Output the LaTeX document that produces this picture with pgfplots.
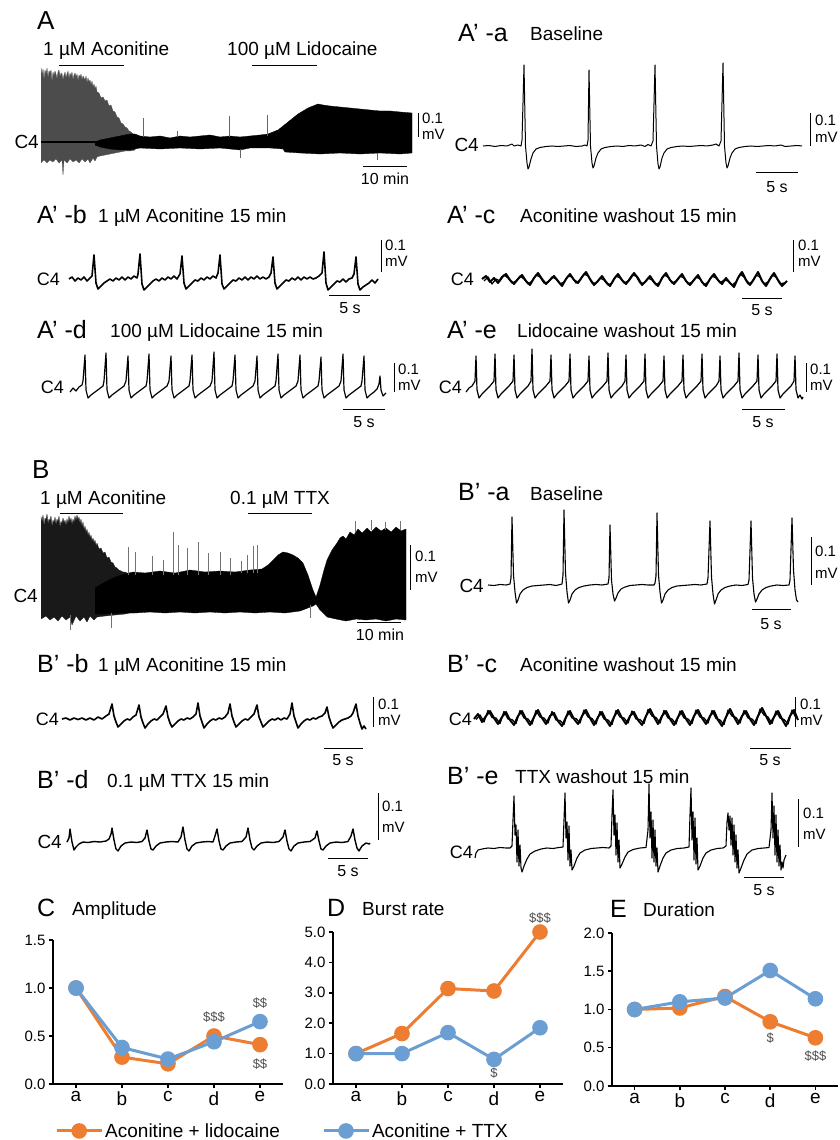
\documentclass[border=0pt]{standalone}
\usepackage{fontspec}
\setmainfont{Liberation Sans}
\usepackage{pgfplots}
\pgfplotsset{compat=1.18, /pgf/number format/assume math mode=true}
\definecolor{orng}{HTML}{ED7D31}
\definecolor{blu}{HTML}{6B9ED2}
\pgfplotsset{chart/.style={scale only axis, xmin=-0.5, xmax=4.5, ymin=0,
  axis x line*=bottom, axis y line*=left, axis line style={-, line width=2.5pt},
  xtick={0,1,2,3,4}, xticklabels={a,b,c,d,e}, tick align=outside, major tick length=4pt,
  tick style={line width=1.5pt, black}, clip=false, scaled y ticks=false,
  y tick label style={/pgf/number format/.cd, fixed, fixed zerofill, precision=1, /tikz/.cd, font=\fontsize{15}{15}\selectfont},
  x tick label style={font=\fontsize{19}{19}\selectfont},
  every axis plot/.append style={line width=3pt, mark=*, mark size=6.3pt, mark options={solid}}}}
\begin{document}
\begin{tikzpicture}[
 ann/.style={font=\fontsize{13}{13}\selectfont, text=black!70},
 lab/.style={inner sep=0pt, anchor=base west, font=\fontsize{25}{25}\selectfont},
 big/.style={inner sep=0pt, anchor=base west, font=\fontsize{26}{26}\selectfont},
 ttl/.style={inner sep=0pt, anchor=base west, font=\fontsize{19}{19}\selectfont},
 cf/.style={inner sep=0pt, anchor=base east, font=\fontsize{19}{19}\selectfont},
 cs/.style={inner sep=0pt, anchor=base east, font=\fontsize{18}{18}\selectfont},
 sb/.style={inner sep=0pt, anchor=base west, font=\fontsize{15}{15}\selectfont},
 tb/.style={inner sep=0pt, anchor=base, font=\fontsize{16}{16}\selectfont}]
\useasboundingbox (0,0) rectangle (840pt,1140pt);
\begin{axis}[at={(0pt,0pt)}, anchor=south west, width=840pt, height=1140pt, scale only axis,
  xmin=0, xmax=840, ymin=0, ymax=1140, y dir=reverse, hide axis, clip=false,
  unbounded coords=jump, every axis plot/.append style={line join=round}]
% ---------------- A ----------------
\node[big] at (37,30) {A};
\node[ttl] at (43,56) {1 µM Aconitine};
\node[ttl] at (227,56) {100 µM Lidocaine};
\addplot[black, line width=1pt] coordinates {(59,66)(124,66)};
\addplot[black, line width=1pt] coordinates {(252,66)(317,66)};
\addplot[fill=black!70, draw=black!70, line width=0.3pt] coordinates {(41,68)(42,75)(43,69)(44,80)(45,70)(46,74)(47,68)(48,78)(49,71)(50,73)(51,70)(52,82)(53,72)(54,76)(55,71)(56,74)(57,79)(58,72)(59,70)(60,77)(61,73)(62,74)(63,80)(64,75)(65,72)(66,78)(67,74)(68,71)(69,79)(70,73)(71,76)(72,72)(73,80)(74,75)(75,73)(76,77)(77,74)(78,81)(79,75)(80,77)(81,74)(82,80)(83,76)(84,78)(85,80)(86,76)(87,83)(88,78)(89,82)(90,80)(91,85)(92,81)(93,87)(94,84)(95,89)(96,86)(97,92)(99,93)(101,98)(103,97)(105,101)(107,100)(109,106)(111,105)(113,111)(115,112)(117,117)(119,118)(121,123)(123,124)(125,127)(127,128)(129,131)(131,132)(133,134)(135,136)(135,150)(130,151)(125,151)(120,152)(115,153)(110,154)(105,155)(100,156)(97,157)(95,161)(93,158)(90,163)(88,159)(85,162)(82,159)(79,163)(76,160)(73,162)(70,159)(67,163)(64,160)(63,175)(62,160)(59,163)(56,159)(53,162)(50,160)(47,163)(44,160)(41,163)};
\addplot[black, line width=1.5pt] coordinates {(41,142)(100,142)};
\addplot[fill=black, draw=black, line width=0.3pt] coordinates {(95,142)(100,140)(105,139)(110,138)(115,137)(120,136)(125,135)(130,134)(135,134)(140,136)(150,137)(160,136)(170,138)(180,136)(190,137)(200,136)(210,135)(220,137)(230,136)(240,137)(250,136)(260,135)(268,134)(273,132)(278,130)(283,126)(288,122)(293,118)(298,114)(303,111)(308,108)(313,106)(318,104)(323,105)(330,106)(340,107)(350,108)(360,109)(370,110)(380,111)(390,111)(400,112)(412,113)(412,153)(400,154)(380,153)(360,154)(340,153)(320,154)(300,153)(285,152)(283,149)(270,148)(250,148)(240,150)(220,148)(200,149)(180,148)(160,149)(140,148)(130,150)(120,150)(110,149)(100,147)(95,145)};
\addplot[black!60, line width=0.6pt] coordinates {(143,137)(143,118)(143,nan)(177,137)(177,131)(177,nan)(229,137)(229,116)(229,nan)(267,136)(267,115)(267,nan)(240,149)(240,158)(240,nan)(377,153)(377,160)};
\node[cf] at (39,149) {C4};
\addplot[black, line width=1pt] coordinates {(418,113)(418,137)};
\node[sb] at (422,124) {0.1};
\node[sb] at (422,140) {mV};
\addplot[black, line width=1pt] coordinates {(363,167)(407,167)};
\node[tb] at (385,185) {10 min};
% ---------------- A'-a ----------------
\node[lab] at (458,42) {A’ -a};
\node[ttl] at (530,41) {Baseline};
\node[cf] at (479,152) {C4};
\addplot[black, line width=1pt] coordinates {(483,146)(489,145.5)(495,146.5)(501,145.5)(507,146)(512,144)(514,146)(518,145)(521,146)(522,140)(524,65)(525.5,146)(527,163)(528,169)(529,167)(531,159)(533,153)(536,149)(540,147.5)(546,146.5)(552,146)(558,146.5)(564,146)(570,145.5)(576,146.5)(582,146)(585,145)(587,146)(588,140)(589,70)(590.5,146)(592,163)(593,168)(594,166)(596,158)(598,153)(601,149)(605,147.5)(611,146.5)(617,146)(623,146.5)(629,145.5)(635,146)(641,145)(645,146.5)(648,144.5)(651,146)(653,141)(655,65)(656.5,146)(658,164)(659,169)(660,167)(662,158)(664,153)(667,149)(671,147.5)(677,146.5)(683,146)(689,146.5)(695,146)(701,145.5)(707,146)(713,145)(716,144)(719,146)(721,141)(723,63)(724.5,146)(726,163)(727,168)(728,166)(730,158)(732,153)(735,149)(739,147.5)(745,146.5)(751,146)(757,146.5)(763,146)(769,145.5)(775,146)(781,145)(785,146.5)(791,146)(797,145.5)(802,146)};
\addplot[black, line width=1pt] coordinates {(810,113)(810,146)};
\node[sb] at (815,126) {0.1};
\node[sb] at (815,143) {mV};
\addplot[black, line width=1pt] coordinates {(756,173)(798,173)};
\node[tb] at (777,193) {5 s};
% ---------------- A'-b ----------------
\node[lab] at (37,224) {A’ -b};
\node[ttl] at (98,223) {1 µM Aconitine 15 min};
\node[cs] at (60,285) {C4};
\addplot[black, line width=1.6pt] coordinates {(69,279)(72,277)(75,281)(78,278)(81,280)(84,277)(87,281)(90,278)(92,276)(94,255)(96,283)(98,289)(101,286)(104,283)(107,281)(110,279)(113,281)(116,278)(119,280)(122,277)(125,280)(128,277)(131,279)(134,276)(137,278)(138,274)(140,254)(142,284)(144,290)(147,287)(150,284)(153,281)(156,279)(159,281)(162,278)(165,280)(168,277)(171,279)(174,276)(177,279)(180,274)(182,256)(184,283)(186,289)(189,286)(192,283)(195,280)(198,281)(201,278)(204,280)(207,277)(210,279)(213,276)(216,278)(218,273)(220,255)(222,284)(224,289)(227,286)(230,283)(233,280)(236,281)(239,278)(242,280)(245,277)(248,280)(251,277)(254,279)(257,276)(260,279)(263,277)(266,279)(269,277)(271,273)(273,257)(275,283)(277,289)(280,286)(283,283)(286,280)(289,281)(292,278)(295,280)(298,277)(301,280)(304,277)(307,279)(310,277)(313,279)(316,278)(319,276)(322,273)(324,252)(326,283)(328,290)(331,287)(334,284)(337,281)(340,282)(343,279)(346,282)(349,279)(352,278)(354,274)(356,257)(358,284)(360,290)(363,287)(366,285)(369,283)(372,280)(375,283)(378,279)};
\addplot[black, line width=1pt] coordinates {(381,240)(381,272)};
\node[sb] at (385,251) {0.1};
\node[sb] at (385,267) {mV};
\addplot[black, line width=1pt] coordinates {(329,295)(370,295)};
\node[tb] at (350,313) {5 s};
% ---------------- A'-c ----------------
\node[lab] at (447,224) {A’ -c};
\node[ttl] at (520,223) {Aconitine washout 15 min};
\node[cs] at (474,285) {C4};
\addplot[black, line width=2pt] coordinates {(482,279)(486,276)(490,282)(494,278)(498,283)(502,277)(506,274)(510,280)(514,284)(518,279)(522,275)(526,281)(530,285)(534,278)(538,273)(542,279)(546,284)(550,280)(554,276)(558,281)(562,286)(566,279)(570,274)(574,280)(578,283)(582,277)(586,272)(590,279)(594,285)(598,281)(602,276)(606,282)(610,286)(614,279)(618,274)(622,280)(626,284)(630,279)(634,273)(638,278)(642,285)(646,281)(650,276)(654,282)(658,286)(662,278)(666,273)(670,280)(674,284)(678,279)(682,274)(686,281)(690,285)(694,280)(698,275)(702,282)(706,286)(710,279)(714,274)(718,280)(722,284)(726,278)(730,283)(734,287)(738,278)(742,272)(746,280)(750,285)(754,279)(758,272)(762,281)(766,286)(770,279)(774,273)(778,280)(782,286)(787,281)};
\addplot[black, line width=1.3pt] coordinates {(484,281)(488,277)(492,284)(496,279)(500,281)(504,275)(508,278)(512,283)(516,281)(520,276)(524,279)(528,284)(532,281)(536,275)(540,277)(544,283)(548,282)(552,277)(556,279)(560,284)(564,282)(568,276)(572,277)(576,283)(580,280)(584,274)(588,276)(592,283)(596,283)(600,278)(604,280)(608,285)(612,283)(616,276)(620,278)(624,283)(628,281)(632,275)(636,276)(640,283)(644,283)(648,278)(652,280)(656,285)(660,282)(664,275)(668,277)(672,283)(676,281)(680,276)(684,278)(688,284)(692,282)(696,277)(700,279)(704,285)(708,282)(712,276)(716,278)(720,283)(724,280)(728,281)(732,285)(736,282)(740,274)(744,277)(748,284)(752,282)(756,275)(760,277)(764,284)(768,282)(772,275)(776,277)(780,284)(784,283)};
\addplot[black, line width=1pt] coordinates {(793,240)(793,272)};
\node[sb] at (798,251) {0.1};
\node[sb] at (798,267) {mV};
\addplot[black, line width=1pt] coordinates {(742,298)(782,298)};
\node[tb] at (762,315) {5 s};
% ---------------- A'-d ----------------
\node[lab] at (37,338) {A’ -d};
\node[ttl] at (110,337) {100 µM Lidocaine 15 min};
\node[cs] at (64,393) {C4};
\addplot[black, line width=1.2pt] coordinates {(70,392)(73,388)(76,391)(79,387)(82,385)(83,381)(85,355)(86,390)(88,398)(91,395)(95,392)(99,389)(103,386)(104,381)(106,353)(107,390)(109,398)(112,395)(116,392)(120,389)(124,386)(126,381)(128,356)(129,390)(131,398)(134,395)(138,392)(142,389)(146,386)(147,381)(149,354)(150,390)(152,398)(155,395)(159,392)(163,389)(167,386)(169,381)(171,356)(172,390)(174,398)(177,395)(181,392)(185,389)(189,386)(190,381)(192,355)(193,390)(195,398)(198,395)(202,392)(206,389)(210,386)(212,381)(214,352)(215,390)(217,398)(220,395)(224,392)(228,389)(232,386)(233,381)(235,355)(236,390)(238,398)(241,395)(245,392)(249,389)(253,386)(255,381)(257,356)(258,390)(260,398)(263,395)(267,392)(271,389)(275,386)(276,381)(278,354)(279,390)(281,398)(284,395)(288,392)(292,389)(296,386)(298,381)(300,355)(301,390)(303,398)(306,395)(310,392)(314,389)(318,386)(319,381)(321,357)(322,390)(324,398)(327,395)(331,392)(335,389)(339,386)(341,381)(343,354)(344,390)(346,398)(349,395)(353,392)(357,389)(361,386)(362,381)(364,356)(365,390)(367,398)(370,395)(374,392)(377,389)(379,384)(380,376)(381,390)(383,396)(386,393)};
\addplot[black, line width=1pt] coordinates {(394,363)(394,392)};
\node[sb] at (398,374) {0.1};
\node[sb] at (398,390) {mV};
\addplot[black, line width=1pt] coordinates {(343,409)(385,409)};
\node[tb] at (364,427) {5 s};
% ---------------- A'-e ----------------
\node[lab] at (447,338) {A’ -e};
\node[ttl] at (517,337) {Lidocaine washout 15 min};
\node[cs] at (462,393) {C4};
\addplot[black, line width=1.2pt] coordinates {(466,392)(469,388)(472,386)(475,381)(476,356)(477,390)(479,398)(482,394)(486,390)(490,386)(494,381)(495,354)(496,390)(498,398)(501,394)(505,390)(509,386)(513,381)(514,355)(515,390)(517,398)(520,394)(524,390)(528,386)(531,381)(532,349)(533,390)(535,398)(538,394)(542,390)(546,386)(550,381)(551,355)(552,390)(554,398)(557,394)(561,390)(565,386)(569,381)(570,354)(571,390)(573,398)(576,394)(580,390)(584,386)(588,381)(589,356)(590,390)(592,398)(595,394)(599,390)(603,386)(607,381)(608,353)(609,390)(611,398)(614,394)(618,390)(622,386)(625,381)(626,355)(627,390)(629,398)(632,394)(636,390)(640,386)(644,381)(645,354)(646,390)(648,398)(651,394)(655,390)(659,386)(663,381)(664,356)(665,390)(667,398)(670,394)(674,390)(678,386)(682,381)(683,355)(684,390)(686,398)(689,394)(693,390)(697,386)(701,381)(702,354)(703,390)(705,398)(708,394)(712,390)(716,386)(719,381)(720,356)(721,390)(723,398)(726,394)(730,390)(734,386)(738,381)(739,353)(740,390)(742,398)(745,394)(749,390)(753,386)(757,381)(758,355)(759,390)(761,398)(764,394)(768,390)(772,386)(776,381)(777,354)(778,390)(780,398)(783,394)(787,390)(791,386)(794,381)(795,356)(796,390)(798,398)(800,395)(802,399)(803,397)};
\addplot[black, line width=1pt] coordinates {(806,363)(806,392)};
\node[sb] at (810,374) {0.1};
\node[sb] at (810,390) {mV};
\addplot[black, line width=1pt] coordinates {(742,409)(785,409)};
\node[tb] at (763,427) {5 s};
% ---------------- B ----------------
\node[big] at (32,478) {B};
\node[ttl] at (40,504) {1 µM Aconitine};
\addplot[black, line width=1pt] coordinates {(60,513)(123,513)};
\node[ttl] at (230,504) {0.1 µM TTX};
\addplot[black, line width=1pt] coordinates {(248,513)(312,513)};
\addplot[fill=black!90, draw=black!90, line width=0.3pt] coordinates {(41,517)(42,522)(43,515)(44,526)(45,518)(46,520)(47,514)(48,524)(49,519)(50,521)(51,516)(52,527)(53,520)(54,523)(55,517)(56,525)(57,519)(58,522)(59,516)(60,528)(61,521)(62,524)(63,518)(64,523)(65,520)(66,526)(67,519)(68,524)(69,516)(70,522)(71,518)(72,525)(73,519)(74,523)(75,516)(76,521)(77,515)(78,520)(79,517)(80,524)(81,519)(82,527)(83,522)(84,530)(85,526)(86,533)(87,529)(88,536)(89,532)(90,538)(91,535)(92,541)(93,538)(94,543)(95,540)(96,546)(97,543)(99,549)(101,548)(103,553)(105,552)(107,558)(109,557)(111,562)(113,563)(115,567)(117,568)(119,570)(121,571)(123,572)(125,572)(127,573)(129,573)(131,574)(133,574)(133,612)(125,614)(115,615)(105,616)(97,617)(94,620)(90,616)(87,622)(84,617)(80,621)(76,616)(72,625)(70,617)(66,620)(62,616)(58,621)(54,617)(50,620)(46,616)(41,619)};
\addplot[fill=black, draw=black, line width=0.3pt] coordinates {(95,588)(105,582)(115,577)(125,574)(133,572)(145,573)(160,571)(175,573)(190,570)(205,572)(220,571)(235,572)(250,570)(262,569)(268,565)(273,560)(278,555)(283,552)(288,553)(293,555)(298,558)(303,563)(308,575)(313,590)(316,597)(320,585)(324,570)(327,560)(332,550)(337,543)(340,538)(343,536)(346,539)(350,532)(354,535)(358,529)(362,533)(367,528)(371,532)(376,527)(381,531)(386,528)(391,532)(396,527)(401,531)(406,529)(406,620)(396,619)(386,621)(376,619)(366,620)(356,619)(346,621)(336,619)(327,617)(320,610)(316,604)(313,606)(300,611)(285,613)(270,612)(255,613)(240,612)(225,613)(210,612)(195,613)(180,612)(165,613)(150,612)(135,613)(120,613)(105,614)(95,614)};
\addplot[black!55, line width=0.6pt] coordinates {(128,575)(128,547)(128,nan)(135,575)(135,552)(135,nan)(173,575)(173,532)(173,nan)(178,575)(178,545)(178,nan)(187,575)(187,548)(187,nan)(198,575)(198,542)(198,nan)(208,575)(208,553)(208,nan)(220,575)(220,552)(220,nan)(230,575)(230,558)(230,nan)(247,573)(247,555)(247,nan)(253,573)(253,546)(253,nan)(257,573)(257,545)(257,nan)(152,575)(152,556)(152,nan)(163,575)(163,560)(163,nan)(241,573)(241,561)(241,nan)(355,532)(355,521)(355,nan)(371,530)(371,520)(371,nan)(385,530)(385,522)(385,nan)(400,530)(400,521)(400,nan)(70,615)(70,630)(70,nan)(111,613)(111,628)(111,nan)(310,605)(310,618)};
\node[cf] at (38,602) {C4};
\addplot[black, line width=1pt] coordinates {(410,545)(410,590)};
\node[sb] at (415,561) {0.1};
\node[sb] at (415,582) {mV};
\addplot[black, line width=1pt] coordinates {(357,622)(401,622)};
\node[tb] at (380,640) {10 min};
% ---------------- B'-a ----------------
\node[lab] at (458,500) {B’ -a};
\node[ttl] at (530,500) {Baseline};
\node[cf] at (484,592) {C4};
\addplot[black, line width=1.1pt] coordinates {(488,585)(494,585.5)(500,584.5)(506,585)(510,584)(511,578)(512,517)(513.5,575)(515,592)(516.5,603)(518,600)(520,594)(523,590)(527,587.5)(532,586)(538,585.5)(544,585)(550,584.5)(556,585.5)(562,584)(563,575)(564,510)(565.5,573)(567,592)(568.5,603)(570,600)(572,594)(575,590)(579,587.5)(584,586)(590,585)(596,584.5)(602,585)(608,584)(609,578)(610,525)(611.5,580)(613,594)(614.5,601)(616,598)(618,593)(621,589)(625,587)(630,585.5)(636,585)(642,584.5)(648,585)(654,585)(655,583)(656,576)(657,513)(658.5,575)(660,592)(661.5,603)(663,600)(665,594)(668,590)(672,587.5)(677,586)(683,585.5)(689,585)(695,584.5)(701,585)(707,584)(708,578)(710,521)(711.5,577)(713,594)(714.5,604)(716,600)(718,594)(721,590)(725,587.5)(730,586)(736,585)(742,585.5)(748,584.5)(749,580)(751,521)(752.5,578)(754,594)(755.5,602)(757,599)(759,594)(762,590)(766,587.5)(771,586)(777,585)(783,585.5)(789,585)(790,580)(792,518)(793.5,570)(795,590)(796.5,600)(798,602)};
\addplot[black, line width=1pt] coordinates {(811,537)(811,585)};
\node[sb] at (815,556) {0.1};
\node[sb] at (815,578) {mV};
\addplot[black, line width=1pt] coordinates {(752,609)(791,609)};
\node[tb] at (771,629) {5 s};
% ---------------- B'-b ----------------
\node[lab] at (37,672) {B’ -b};
\node[ttl] at (98,671) {1 µM Aconitine 15 min};
\node[cs] at (59,725) {C4};
\addplot[black, line width=1.6pt] coordinates {(62,719)(66,718)(70,720)(74,718)(78,719.5)(82,718)(86,720)(90,718)(94,720)(98,717)(102,719)(106,716)(109,714)(112,704)(114,716)(116,722)(118,727)(121,724)(124,721)(127,719)(130,720)(133,717)(136,715)(139,705)(141,717)(143,723)(145,728)(148,724)(151,721)(154,719)(157,720)(160,717)(163,714)(166,706)(168,717)(170,723)(172,727)(175,724)(178,721)(181,719)(184,720)(187,718)(190,719)(193,717)(196,714)(198,703)(200,716)(202,722)(204,728)(207,724)(210,721)(213,719)(216,720)(219,718)(222,719)(225,717)(228,713)(230,704)(232,716)(234,722)(236,727)(239,724)(242,721)(245,719)(248,720)(251,717)(254,714)(257,705)(259,717)(261,722)(263,727)(266,724)(269,721)(272,719)(275,720)(278,718)(281,720)(284,718)(287,719)(290,714)(292,703)(294,716)(296,722)(298,728)(301,724)(304,721)(307,719)(310,720)(313,718)(316,719)(319,717)(322,716)(325,713)(327,707)(329,717)(331,723)(333,728)(336,725)(339,722)(342,720)(345,719)(348,718)(351,716)(353,713)(356,704)(358,716)(360,723)(362,729)(364,726)(366,729)};
\addplot[black, line width=1pt] coordinates {(373,697)(373,727)};
\node[sb] at (378,709) {0.1};
\node[sb] at (378,725) {mV};
\addplot[black, line width=1pt] coordinates {(324,748)(363,748)};
\node[tb] at (343,765) {5 s};
% ---------------- B'-c ----------------
\node[lab] at (447,672) {B’ -c};
\node[ttl] at (520,671) {Aconitine washout 15 min};
\node[cs] at (472,725) {C4};
\addplot[black, line width=2pt] coordinates {(474,719)(478,714)(482,722)(486,716)(490,711)(494,718)(498,724)(502,717)(506,712)(510,720)(514,725)(518,716)(522,711)(526,719)(530,725)(534,717)(538,710)(542,718)(546,724)(550,716)(554,713)(558,721)(562,726)(566,717)(570,711)(574,719)(578,724)(582,716)(586,710)(590,718)(594,725)(598,717)(602,712)(606,720)(610,726)(614,717)(618,710)(622,718)(626,724)(630,716)(634,712)(638,720)(642,725)(646,716)(650,709)(654,717)(658,724)(662,716)(666,711)(670,719)(674,725)(678,717)(682,711)(686,719)(690,725)(694,716)(698,710)(702,718)(706,724)(710,716)(714,711)(718,720)(722,726)(726,717)(730,709)(734,717)(738,724)(742,716)(746,711)(750,719)(754,725)(758,716)(762,708)(766,716)(770,724)(774,717)(778,711)(782,719)(786,726)(790,716)(794,710)(798,720)};
\addplot[black, line width=1.3pt] coordinates {(476,719.5)(480,715)(484,722)(488,710.5)(492,717.5)(496,718)(500,723.5)(504,711.5)(508,719)(512,719.5)(516,723.5)(520,710.5)(524,718)(528,719)(532,724)(536,710.5)(540,717)(544,718)(548,723)(552,711.5)(556,720)(560,720.5)(564,724.5)(568,711)(572,718)(576,718.5)(580,723)(584,710)(588,717)(592,718.5)(596,724)(600,711.5)(604,719)(608,720)(612,724.5)(616,710.5)(620,717)(624,718)(628,723)(632,711)(636,719)(640,719.5)(644,723.5)(648,709.5)(652,716)(656,717.5)(660,723)(664,710.5)(668,718)(672,719)(676,724)(680,711)(684,718)(688,719)(692,723.5)(696,710)(700,717)(704,718)(708,723)(712,710.5)(716,718.5)(720,720)(724,724.5)(728,710)(732,716)(736,717.5)(740,723)(744,710.5)(748,718)(752,719)(756,723.5)(760,709)(764,715)(768,717)(772,723.5)(776,711)(780,718)(784,719.5)(788,724)(792,710)(796,718)};
\addplot[black, line width=1pt] coordinates {(795,697)(795,727)};
\node[sb] at (800,709) {0.1};
\node[sb] at (800,725) {mV};
\addplot[black, line width=1pt] coordinates {(750,748)(791,748)};
\node[tb] at (770,765) {5 s};
% ---------------- B'-d ----------------
\node[lab] at (37,788) {B’ -d};
\node[ttl] at (107,787) {0.1 µM TTX 15 min};
\node[cf] at (62,848) {C4};
\addplot[black, line width=1.4pt] coordinates {(67,842)(69,838)(70,829)(72,842)(74,850)(76,847)(79,844)(83,842)(88,842.5)(94,841.5)(100,842)(106,841)(109,839)(111,834)(112,828)(114,840)(116,849)(118,851)(121,846)(125,843)(131,842)(137,842.5)(142,841.5)(145,838)(147,830)(149,841)(151,849)(153,850)(156,846)(160,843)(166,842)(172,841.5)(178,842)(181,837)(183,827)(185,840)(187,849)(189,851)(192,846)(196,843)(202,842)(208,841.5)(213,842)(215,836)(217,829)(219,841)(221,849)(223,850)(226,846)(230,843)(236,842)(242,841.5)(246,837)(248,828)(250,840)(252,848)(254,850)(257,846)(261,843)(267,842)(273,842.5)(279,841.5)(283,837)(285,830)(287,841)(289,849)(291,851)(294,846)(298,843)(304,842)(310,841.5)(315,838)(317,831)(319,841)(321,849)(323,850)(326,846)(330,843)(336,842)(342,842.5)(348,841.5)(351,836)(353,829)(355,840)(357,848)(359,851)(362,846)(366,843)(369,844)(370,843)};
\addplot[black, line width=1pt] coordinates {(378,793)(378,840)};
\node[sb] at (382,811) {0.1};
\node[sb] at (382,832) {mV};
\addplot[black, line width=1pt] coordinates {(328,858)(368,858)};
\node[tb] at (348,876) {5 s};
% ---------------- B'-e ----------------
\node[lab] at (447,784) {B’ -e};
\node[ttl] at (515,783) {TTX washout 15 min};
\node[cs] at (473,858) {C4};
\addplot[black, line width=1.1pt] coordinates {(475,858)(476,853)(478,850)(482,849)(488,848)(494,848.5)(500,847.5)(506,848)(510,848)(512,846)(513,820)(514,796)(515,835)(516,825)(517,862)(518,830)(519,866)(520,845)(521,868)(522,872)(524,866)(527,859)(530,854)(535,851)(541,849)(547,848)(553,848.5)(559,847.5)(563,847)(564,820)(565,793)(566,838)(567,822)(568,860)(569,826)(570,866)(571,850)(572,870)(574,866)(577,858)(580,853)(585,850)(591,848.5)(597,848)(603,847.5)(609,848)(611,846)(612,815)(613,790)(614,835)(615,815)(616,855)(617,823)(618,862)(619,840)(620,868)(622,864)(625,857)(628,852)(633,849.5)(640,848)(646,847.5)(648,830)(649,784)(650,838)(651,812)(652,858)(653,820)(654,862)(655,830)(656,866)(657,848)(658,872)(660,866)(663,858)(666,853)(671,850)(677,848.5)(684,848)(689,847)(690,815)(691,788)(692,840)(693,812)(694,860)(695,818)(696,864)(697,838)(698,870)(700,866)(703,858)(706,853)(711,850)(717,848.5)(723,848)(726,846)(727,822)(728,813)(729,830)(730,816)(731,845)(732,818)(733,855)(734,825)(735,862)(736,835)(737,868)(738,850)(739,873)(741,868)(744,860)(747,854)(752,850)(758,848.5)(764,848)(769,847.5)(771,830)(772,793)(773,838)(774,806)(775,855)(776,815)(777,862)(778,830)(779,866)(780,845)(781,870)(782,862)(783,868)(784,860)(786,855)};
\addplot[black, line width=1pt] coordinates {(798,799)(798,847)};
\node[sb] at (803,818) {0.1};
\node[sb] at (803,839) {mV};
\addplot[black, line width=1pt] coordinates {(744,877)(784,877)};
\node[tb] at (764,895) {5 s};
% ---------------- chart titles ----------------
\node[lab] at (37,916) {C};
\node[ttl] at (72,915) {Amplitude};
\node[lab] at (327,916) {D};
\node[ttl] at (362,915) {Burst rate};
\node[lab] at (610,917) {E};
\node[ttl] at (643,916) {Duration};
\end{axis}
% ---------------- C ----------------
\begin{axis}[chart, at={(53pt,56pt)}, anchor=south west, width=230pt, height=144pt, ymax=1.5,
  ytick={0,0.5,1,1.5},
  legend columns=2,
  legend style={at={(0.0087,-0.326)}, anchor=west, draw=none, fill=none, inner sep=0pt,
    font=\fontsize{19}{19}\selectfont, /tikz/every even column/.append style={column sep=40pt}},
  legend image code/.code={\draw[mark repeat=2, mark phase=2, #1] plot coordinates {(0pt,0pt) (22.5pt,0pt) (45pt,0pt)};}]
\addplot[orng] coordinates {(0,1.0)(1,0.28)(2,0.21)(3,0.50)(4,0.41)};
\addlegendentry{Aconitine + lidocaine}
\addplot[blu] coordinates {(0,1.0)(1,0.38)(2,0.26)(3,0.44)(4,0.65)};
\addlegendentry{Aconitine + TTX}
\node[ann] at (axis cs:3,0.70) {\$\$\$};
\node[ann] at (axis cs:4,0.84) {\$\$};
\node[ann] at (axis cs:4,0.21) {\$\$};
\end{axis}
% ---------------- D ----------------
\begin{axis}[chart, at={(333pt,56pt)}, anchor=south west, width=230pt, height=152pt, ymax=5,
  ytick={0,1,2,3,4,5}]
\addplot[orng] coordinates {(0,1.0)(1,1.66)(2,3.14)(3,3.06)(4,5.0)};
\addplot[blu] coordinates {(0,1.0)(1,1.0)(2,1.69)(3,0.81)(4,1.85)};
\node[ann] at (axis cs:4,5.44) {\$\$\$};
\node[ann] at (axis cs:3,0.36) {\$};
\end{axis}
% ---------------- E ----------------
\begin{axis}[chart, at={(612pt,54pt)}, anchor=south west, width=226pt, height=153pt, ymax=2,
  ytick={0,0.5,1,1.5,2}]
\addplot[orng] coordinates {(0,1.0)(1,1.02)(2,1.17)(3,0.84)(4,0.63)};
\addplot[blu] coordinates {(0,1.0)(1,1.10)(2,1.15)(3,1.51)(4,1.14)};
\node[ann] at (axis cs:3,0.63) {\$};
\node[ann] at (axis cs:4,0.39) {\$\$\$};
\end{axis}
\end{tikzpicture}
\end{document}
